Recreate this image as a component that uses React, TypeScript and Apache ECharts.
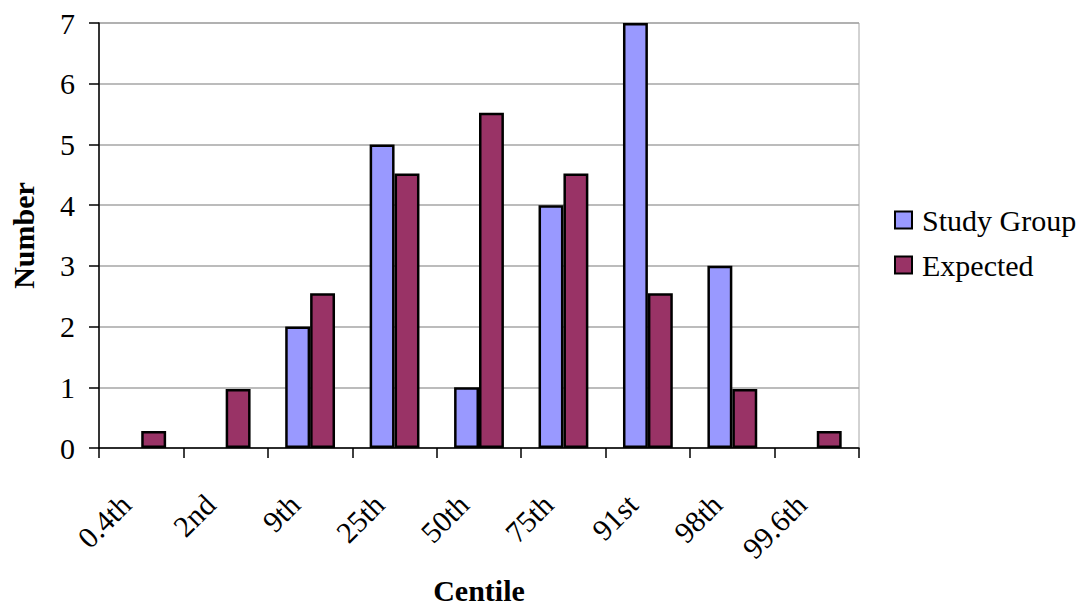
import React, { useEffect, useRef } from "react";
import * as echarts from "echarts";

// Centile bands along the x axis
const centiles = ["0.4th", "2nd", "9th", "25th", "50th", "75th", "91st", "98th", "99.6th"];
// Observed counts in the study group
const studyGroup = [0, 0, 2, 5, 1, 4, 7, 3, 0];
// Counts expected from the reference distribution
const expected = [0.28, 0.97, 2.55, 4.52, 5.52, 4.52, 2.55, 0.97, 0.28];
// Value-axis range
const yMin = 0;
const yMax = 7;
const yStep = 1;

const FONT = "'Liberation Serif', 'Times New Roman', serif";
const BAR_BORDER = 2.5;

// Zero-height bars carry no outline so they vanish into the axis line
const withOutline = (values: number[], color: string) =>
  values.map((v) => ({
    value: v,
    itemStyle: { color, borderColor: "#000", borderWidth: v === 0 ? 0 : BAR_BORDER },
  }));

export default function App() {
  const ref = useRef<HTMLDivElement>(null);

  useEffect(() => {
    if (!ref.current) return;
    const chart = echarts.init(ref.current, undefined, { renderer: "svg" });
    chart.setOption({
      animation: false,
      backgroundColor: "#ffffff",
      textStyle: { fontFamily: FONT, color: "#000" },
      grid: {
        left: 94,
        top: 23,
        right: 223,
        bottom: 155,
        show: true,
        borderColor: "#a6a6a6",
        borderWidth: 1,
      },
      legend: {
        orient: "vertical",
        left: 889,
        top: 200,
        itemWidth: 17,
        itemHeight: 17,
        itemGap: 15,
        icon: "rect",
        textStyle: { fontFamily: FONT, fontSize: 30, color: "#000", padding: [0, 0, 0, 5] },
        data: ["Study Group", "Expected"],
      },
      xAxis: {
        type: "category",
        data: centiles,
        boundaryGap: true,
        name: "Centile",
        nameLocation: "middle",
        nameGap: 127,
        nameTextStyle: { fontFamily: FONT, fontSize: 30, fontWeight: "bold", color: "#000" },
        axisLine: { show: true, lineStyle: { color: "#000", width: 1.5 } },
        axisTick: { show: true, length: 10, lineStyle: { color: "#000", width: 1.5 } },
        axisLabel: {
          rotate: 45,
          margin: 36,
          padding: [0, 22, 0, 0],
          fontFamily: FONT,
          fontSize: 30,
          color: "#000",
          interval: 0,
        },
        splitLine: { show: false },
      },
      yAxis: {
        type: "value",
        min: yMin,
        max: yMax,
        interval: yStep,
        name: "Number",
        nameLocation: "middle",
        nameGap: 61,
        nameRotate: 90,
        nameTextStyle: { fontFamily: FONT, fontSize: 30, fontWeight: "bold", color: "#000" },
        axisLine: { show: true, lineStyle: { color: "#000", width: 1.5 } },
        axisTick: { show: true, length: 10, lineStyle: { color: "#000", width: 1.5 } },
        axisLabel: { margin: 24, fontFamily: FONT, fontSize: 30, color: "#000" },
        splitLine: { show: true, lineStyle: { color: "#a6a6a6", width: 1.5 } },
      },
      series: [
        {
          name: "Study Group",
          type: "bar",
          data: withOutline(studyGroup, "#9999ff"),
          barGap: "0%",
          barCategoryGap: "41%",
          itemStyle: { color: "#9999ff", borderColor: "#000", borderWidth: BAR_BORDER },
        },
        {
          name: "Expected",
          type: "bar",
          data: withOutline(expected, "#993366"),
          barGap: "0%",
          barCategoryGap: "41%",
          itemStyle: { color: "#993366", borderColor: "#000", borderWidth: BAR_BORDER },
        },
      ],
    });
    return () => chart.dispose();
  }, []);

  return (
    <div
      ref={ref}
      style={{ position: "fixed", left: 0, top: 0, width: 1082, height: 610, background: "#fff" }}
    />
  );
}
